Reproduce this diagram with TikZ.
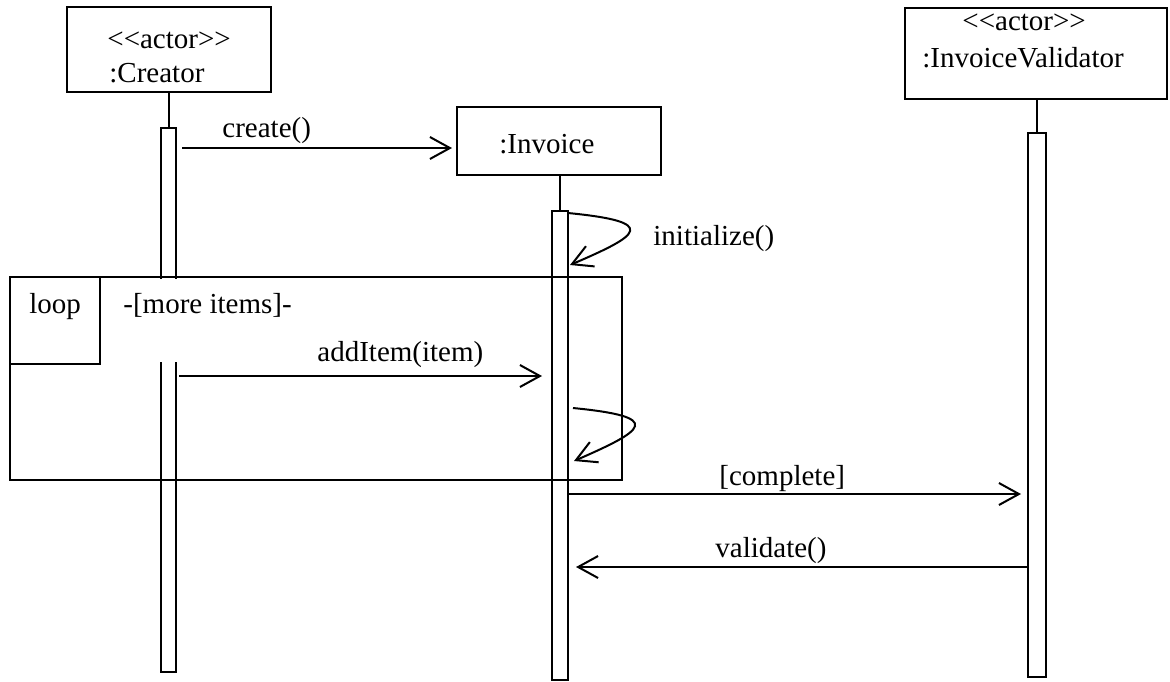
\documentclass[tikz,border=0pt]{standalone}
\usepackage{fontspec}
\setmainfont{Liberation Serif}
\usetikzlibrary{arrows.meta}
\newcommand{\stereo}[1]{<\kern0pt<#1>\kern0pt>}
\begin{document}
\begin{tikzpicture}[x=0.5pt,y=-0.5pt,
  every node/.style={font=\fontsize{14.5}{17}\selectfont},
  objbox/.style={draw, line width=1pt, inner sep=0pt, fill=white},
  barbox/.style={draw, line width=1pt, inner sep=0pt, fill=white},
  txt/.style={anchor=base west, inner sep=0pt},
  msg/.style={line width=1pt, -{Straight Barb[length=10pt,width=11pt]}},
  life/.style={line width=1pt}]
\useasboundingbox (0,0) rectangle (1170,681);
\fill[white] (0,0) rectangle (1170,681);

% objects
\node[objbox, minimum width=102pt, minimum height=42.5pt] (creator) at (169,49.5) {};
\node[objbox, minimum width=102pt, minimum height=34pt] (invoice) at (559,141) {};
\node[objbox, minimum width=131pt, minimum height=45.5pt] (validator) at (1036,53.5) {};

\node[txt] (ct1) at (107,48) {\stereo{actor}};
\node[txt] (ct2) at (109,82) {:Creator};
\node[txt] (it1) at (499,153) {:Invoice};
\node[txt] (vt1) at (962,30) {\stereo{actor}};
\node[txt] (vt2) at (922,67) {:InvoiceValidator};

% activation bars
\node[barbox, minimum width=7.5pt, minimum height=272pt] (cbar) at (168.5,400) {};
\node[barbox, minimum width=8pt, minimum height=234.5pt] (ibar) at (560,445.5) {};
\node[barbox, minimum width=9pt, minimum height=272pt] (vbar) at (1037,405) {};

\draw[life] (creator.south -| cbar.north) -- (cbar.north);
\draw[life] (invoice.south -| ibar.north) -- (ibar.north);
\draw[life] (validator.south -| vbar.north) -- (vbar.north);

% loop fragment
\fill[white] (108,279) rectangle (300,362);
\node[draw, line width=1pt, inner sep=0pt, minimum width=306pt, minimum height=101.5pt] (loopframe) at (316,378.5) {};
\node[draw, line width=1.3pt, inner sep=0pt, minimum width=45pt, minimum height=43.5pt] (looptag) at (55,320.5) {};
\node[txt] (looplbl) at (29,313) {loop};
\node[txt] (guard) at (123,313) {-[more items]-};

% message levels
\coordinate (mCreate) at (0,148);
\coordinate (mAdd) at (0,376);
\coordinate (mComplete) at (0,494);
\coordinate (mValidate) at (0,567);

% create()
\draw[msg, shorten <=2.5pt, shorten >=2pt] (cbar.east |- mCreate) -- (invoice.west |- mCreate);
\node[txt] (lcreate) at (222,137) {create()};

% initialize() self call
\coordinate (s1) at (568,213);
\coordinate (e1) at (570,265);
\draw[msg] (s1) .. controls (660,222) and (640,235) .. (e1);
\node[txt] (linit) at (653,245) {initialize()};

% addItem(item)
\draw[msg, shorten <=1pt, shorten >=4.5pt] (cbar.east |- mAdd) -- (ibar.west |- mAdd);
\node[txt] (ladd) at (317,361) {addItem(item)};

% second self call
\coordinate (s2) at (573,408);
\coordinate (e2) at (574,461);
\draw[msg] (s2) .. controls (665,417) and (645,430) .. (e2);

% [complete]
\draw[msg, shorten >=3pt] (ibar.east |- mComplete) -- (vbar.west |- mComplete);
\node[txt] (lcomplete) at (719,485) {[complete]};

% validate()
\draw[msg, shorten >=3.5pt] (vbar.west |- mValidate) -- (ibar.east |- mValidate);
\node[txt] (lvalidate) at (715,557) {validate()};
\end{tikzpicture}
\end{document}
